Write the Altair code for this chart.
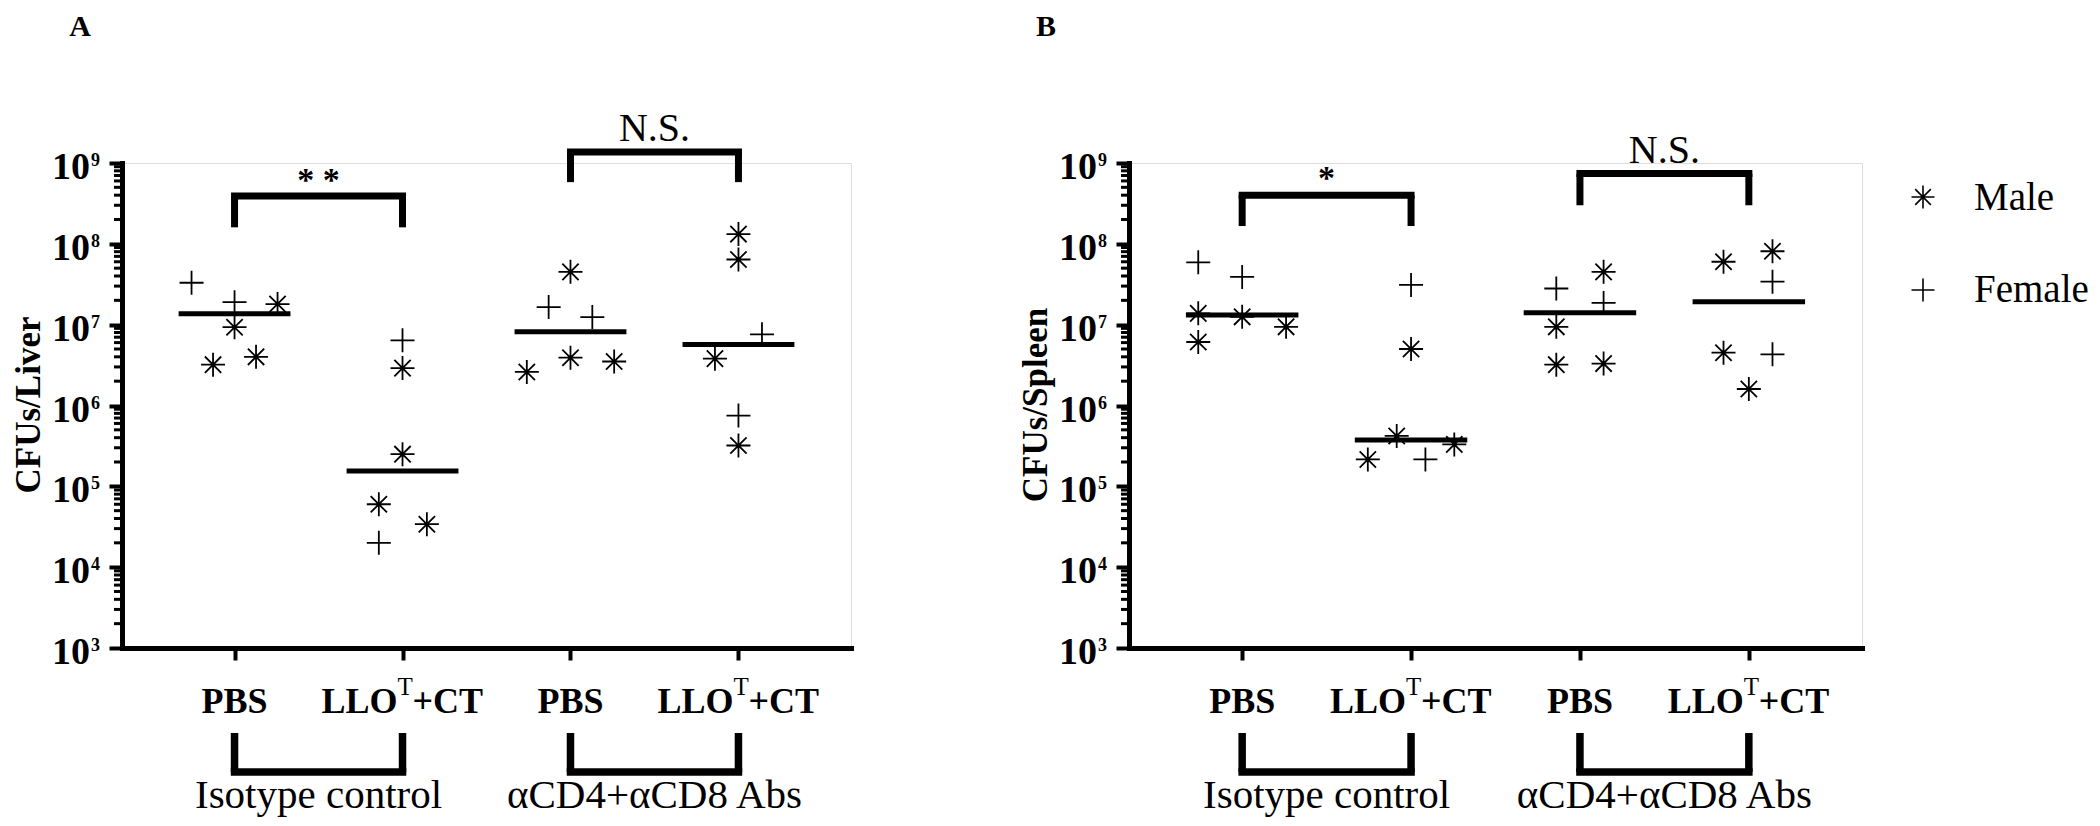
import altair as alt
import pandas as pd

FONT = "Liberation Serif"

# ---------------- data ----------------
cat_main = ["PBS", "LLO", "PBS", "LLO"]
cat_sup = ["", "T", "", "T"]
cat_tail = ["", "+CT", "", "+CT"]
group_names = ["Isotype control", "\u03b1CD4+\u03b1CD8 Abs"]
group_pairs_lo = [1, 3]
group_pairs_hi = [2, 4]
exponents = [3, 4, 5, 6, 7, 8, 9]
legend_labels = ["Male", "Female"]

# Panel A: CFUs/Liver  (M = male, F = female)
liver_sex = [
    ["F", "F", "M", "M", "M", "M"],
    ["F", "M", "M", "M", "M", "F"],
    ["M", "F", "F", "M", "M", "M"],
    ["M", "M", "F", "M", "F", "M"],
]
liver_val = [
    [3.3e7, 1.9e7, 1.8e7, 9.3e6, 3.2e6, 4.0e6],
    [6.4e6, 2.9e6, 2.5e5, 6.0e4, 3.4e4, 2.0e4],
    [4.5e7, 1.65e7, 1.24e7, 2.6e6, 3.9e6, 3.5e6],
    [1.32e8, 6.4e7, 7.6e6, 3.8e6, 7.5e5, 3.2e5],
]
liver_jit = [
    [-0.256, 0.0, 0.256, 0.0, -0.128, 0.128],
    [0.0, 0.0, 0.0, -0.141, 0.145, -0.141],
    [0.0, -0.13, 0.13, -0.26, 0.0, 0.26],
    [0.0, 0.0, 0.14, -0.14, 0.0, 0.0],
]

# Panel B: CFUs/Spleen
spleen_sex = [
    ["F", "F", "M", "M", "M", "M"],
    ["F", "M", "M", "M", "F", "M"],
    ["M", "F", "F", "M", "M", "M"],
    ["M", "M", "F", "M", "F", "M"],
]
spleen_val = [
    [5.9e7, 3.9e7, 1.38e7, 1.25e7, 9.4e6, 6.1e6],
    [3.1e7, 5.0e6, 4.2e5, 2.15e5, 2.15e5, 3.3e5],
    [4.5e7, 2.8e7, 1.86e7, 9.4e6, 3.2e6, 3.3e6],
    [8.1e7, 6.0e7, 3.4e7, 4.5e6, 4.3e6, 1.6e6],
]
spleen_jit = [
    [-0.26, 0.0, -0.26, 0.0, 0.26, -0.26],
    [0.0, 0.0, -0.085, -0.256, 0.085, 0.256],
    [0.14, -0.14, 0.14, -0.14, -0.14, 0.14],
    [0.14, -0.15, 0.14, -0.15, 0.14, 0.0],
]

# significance brackets (values in CFU units)
liver_sig = ["* *", "N.S."]
liver_br_top = [3.9e8, 1.37e9]
liver_br_leg = [1.6e8, 5.8e8]
liver_txt = [4.5e8, 1.87e9]
spleen_sig = ["*", "N.S."]
spleen_br_top = [4.0e8, 7.4e8]
spleen_br_leg = [1.66e8, 3.0e8]
spleen_txt = [4.8e8, 1.0e9]

# ---------------- styling ----------------
AST = "M-1,0L1,0M0,-1L0,1M-0.68,-0.68L0.68,0.68M-0.68,0.68L0.68,-0.68"
PLUS = "M-1,0L1,0M0,-1L0,1"
SHAPES = {"Male": AST, "Female": PLUS}
H = 485
XDOM = [0.33, 4.67]

xs = alt.Scale(domain=XDOM, nice=False, zero=False)
ys = alt.Scale(type="log", domain=[1e3, 1e9], nice=False)
xax = alt.Axis(values=[1, 2, 3, 4], labels=False, title=None, grid=False,
               tickSize=12, tickWidth=4, tickColor="black",
               domainColor="black", domainWidth=5, domainCap="square")
yax = alt.Axis(values=[10.0 ** e for e in exponents], labels=False, title=None,
               grid=False, tickSize=13, tickWidth=4, tickColor="black",
               domainColor="black", domainWidth=5, domainCap="square")


def X(f):
    return alt.X(f, scale=xs, axis=xax)


def Y(f):
    return alt.Y(f, scale=ys, axis=yax)


def panel(vals, sexes, jit, sig, br_top, br_leg, txt_y, ytitle, letter,
          width, letter_x, legend=False):
    rows = []
    for g in range(4):
        for v, s, o in zip(vals[g], sexes[g], jit[g]):
            rows.append({"group": g + 1, "value": v,
                         "sex": "Male" if s == "M" else "Female", "off": o})
    df = pd.DataFrame(rows)

    pts = alt.Chart(df).transform_calculate(
        xp="datum.group + datum.off"
    ).mark_point(filled=False, size=576, strokeWidth=1.8, color="black",
                 opacity=1).encode(
        x=X("xp:Q"), y=Y("value:Q"),
        shape=alt.Shape("sex:N", scale=alt.Scale(domain=legend_labels,
                                                 range=[AST, PLUS]),
                        legend=None),
    )

    med = alt.Chart(df).transform_aggregate(
        med="median(value)", groupby=["group"]
    ).transform_calculate(
        xa="datum.group - 0.333", xb="datum.group + 0.333"
    ).mark_rule(strokeWidth=5, color="black").encode(
        x=X("xa:Q"), x2="xb:Q", y=Y("med:Q"))

    bdf = pd.DataFrame({"x1": group_pairs_lo, "x2": group_pairs_hi,
                        "top": br_top, "leg": br_leg, "ty": txt_y,
                        "lab": sig,
                        "kind": ["star" if "*" in s else "ns" for s in sig]})
    hbar = alt.Chart(bdf).mark_rule(strokeWidth=7, strokeCap="square",
                                    color="black").encode(
        x=X("x1:Q"), x2="x2:Q", y=Y("top:Q"))
    legs = alt.Chart(bdf).transform_fold(["x1", "x2"], as_=["k", "xl"]).mark_rule(
        strokeWidth=7, color="black").encode(
        x=X("xl:Q"), y=Y("top:Q"), y2="leg:Q")
    star_t = alt.Chart(bdf).transform_filter("datum.kind == 'star'").transform_calculate(
        xm="(datum.x1 + datum.x2) / 2").mark_text(
        font=FONT, fontSize=34, fontWeight="bold", align="center",
        baseline="alphabetic", color="black").encode(
        x=X("xm:Q"), y=Y("ty:Q"), text="lab:N")
    ns_t = alt.Chart(bdf).transform_filter("datum.kind == 'ns'").transform_calculate(
        xm="(datum.x1 + datum.x2) / 2").mark_text(
        font=FONT, fontSize=40, align="center", baseline="alphabetic",
        color="black").encode(
        x=X("xm:Q"), y=Y("ty:Q"), text="lab:N")

    # group brackets below the axis
    gdf = pd.DataFrame({"x1": group_pairs_lo, "x2": group_pairs_hi,
                        "name": group_names})
    gbar = alt.Chart(gdf).mark_rule(strokeWidth=7.5, strokeCap="square",
                                    color="black").encode(
        x=X("x1:Q"), x2="x2:Q", y=alt.value(609))
    glegs = alt.Chart(gdf).transform_fold(["x1", "x2"], as_=["k", "xl"]).mark_rule(
        strokeWidth=7.5, color="black").encode(
        x=X("xl:Q"), y=alt.value(570), y2=alt.value(609))
    gtxt = alt.Chart(gdf).transform_calculate(
        xm="(datum.x1 + datum.x2) / 2").mark_text(
        font=FONT, fontSize=41, align="center", baseline="alphabetic",
        color="black").encode(x=X("xm:Q"), y=alt.value(645), text="name:N")

    # category tick labels
    cdf = pd.DataFrame({"group": [1, 2, 3, 4], "main": cat_main,
                        "sup": cat_sup, "tail": cat_tail})
    c_plain = alt.Chart(cdf).transform_filter("datum.sup == ''").mark_text(
        font=FONT, fontSize=36, fontWeight="bold", align="center",
        baseline="alphabetic", color="black").encode(
        x=X("group:Q"), y=alt.value(550), text="main:N")
    c_main = alt.Chart(cdf).transform_filter("datum.sup != ''").mark_text(
        font=FONT, fontSize=36, fontWeight="bold", align="right", dx=-5,
        baseline="alphabetic", color="black").encode(
        x=X("group:Q"), y=alt.value(550), text="main:N")
    c_sup = alt.Chart(cdf).transform_filter("datum.sup != ''").mark_text(
        font=FONT, fontSize=25, align="left", dx=-5,
        baseline="alphabetic", color="black").encode(
        x=X("group:Q"), y=alt.value(532), text="sup:N")
    c_tail = alt.Chart(cdf).transform_filter("datum.sup != ''").mark_text(
        font=FONT, fontSize=36, fontWeight="bold", align="left", dx=10,
        baseline="alphabetic", color="black").encode(
        x=X("group:Q"), y=alt.value(550), text="tail:N")

    # y tick labels 10^n
    edf = pd.DataFrame({"e": [str(e) for e in exponents],
                        "v": [10.0 ** e for e in exponents]})
    ten = alt.Chart(edf).mark_text(
        text="10", font=FONT, fontSize=38, fontWeight="bold", align="right",
        baseline="alphabetic", dy=16, color="black").encode(
        x=alt.value(-32), y=Y("v:Q"))
    sup = alt.Chart(edf).mark_text(
        font=FONT, fontSize=18, fontWeight="bold", align="left",
        baseline="alphabetic", dy=3, color="black").encode(
        x=alt.value(-31), y=Y("v:Q"), text="e:N")

    # minor ticks
    minor = [m * 10.0 ** e for e in exponents[:-1] for m in range(2, 10)]
    mdf = pd.DataFrame({"m": minor})
    mticks = alt.Chart(mdf).mark_rule(strokeWidth=3, color="black").encode(
        x=alt.value(-8), x2=alt.value(0), y=Y("m:Q"))

    tdf = pd.DataFrame({"t": [ytitle], "l": [letter]})
    ytit = alt.Chart(tdf).mark_text(
        font=FONT, fontSize=35, fontWeight="bold", angle=270, align="center",
        baseline="alphabetic", color="black").encode(
        x=alt.value(-82), y=alt.value(242), text="t:N")
    let = alt.Chart(tdf).mark_text(
        font=FONT, fontSize=30, fontWeight="bold", align="center",
        baseline="alphabetic", color="black").encode(
        x=alt.value(letter_x), y=alt.value(-127), text="l:N")

    layers = [mticks, pts, med, hbar, legs, star_t, ns_t, gbar, glegs, gtxt,
              c_plain, c_main, c_sup, c_tail, ten, sup, ytit, let]

    if legend:
        for i, lab in enumerate(legend_labels):
            ldf = pd.DataFrame({"sex": [lab]})
            layers.append(alt.Chart(ldf).mark_point(
                filled=False, size=529, strokeWidth=1.6, color="black",
                opacity=1, shape=SHAPES[lab]).encode(
                x=alt.value(794), y=alt.value(34 + 93 * i)))
            layers.append(alt.Chart(ldf).mark_text(
                font=FONT, fontSize=39, align="left", baseline="alphabetic",
                color="black").encode(
                x=alt.value(845), y=alt.value(47 + 92 * i), text="sex:N"))

    return alt.layer(*layers).properties(width=width, height=H)


pA = panel(liver_val, liver_sex, liver_jit, liver_sig, liver_br_top,
           liver_br_leg, liver_txt, "CFUs/Liver", "A", 729, -42)
pB = panel(spleen_val, spleen_sex, spleen_jit, spleen_sig, spleen_br_top,
           spleen_br_leg, spleen_txt, "CFUs/Spleen", "B", 733, -83, legend=True)

chart = alt.hconcat(pA, pB, spacing=278, bounds="flush").properties(
    padding={"left": 114, "top": 155, "right": 1970, "bottom": 655},
    autosize=alt.AutoSizeParams(type="none"),
).configure_view(stroke=None).configure(background="white")

chart.save("out.html", embed_options={"renderer": "svg", "actions": False})
